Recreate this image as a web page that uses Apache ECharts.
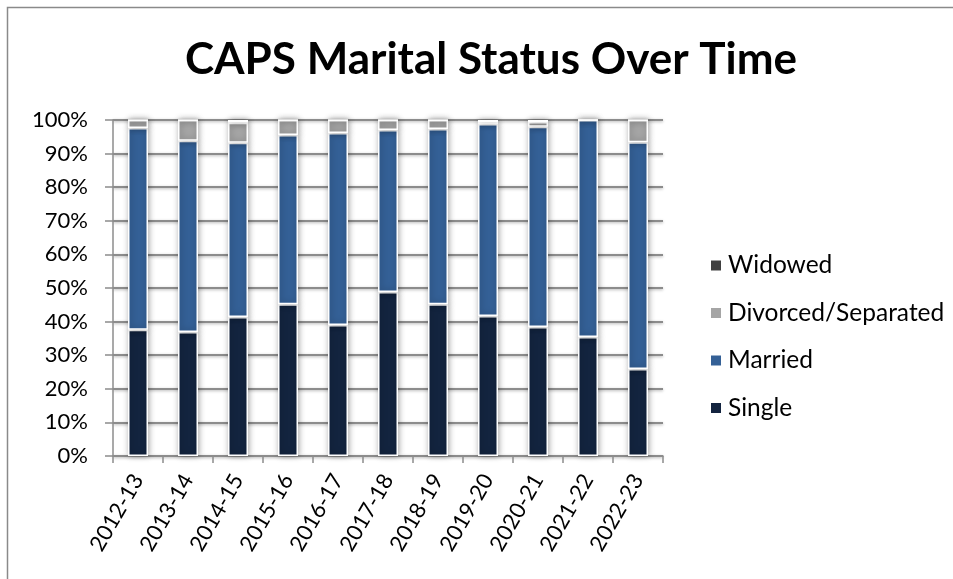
<!DOCTYPE html>
<html>
<head>
<meta charset="utf-8">
<script src="https://cdn.jsdelivr.net/npm/echarts@6/dist/echarts.min.js"></script>
<style>
html,body{margin:0;padding:0;background:#fff;}
#chart{width:953px;height:579px;}
</style>
</head>
<body>
<div id="chart"></div>
<script>
var years = ['2012-13','2013-14','2014-15','2015-16','2016-17','2017-18','2018-19','2019-20','2020-21','2021-22','2022-23'];
var single = [37.6, 36.9, 41.4, 45.2, 39.0, 48.8, 45.2, 41.7, 38.4, 35.4, 25.9];
var married = [60.0, 56.9, 51.8, 50.3, 57.1, 48.2, 52.1, 57.1, 59.6, 64.6, 67.5];
var divorced = [2.4, 6.2, 6.0, 4.5, 3.9, 3.0, 2.7, 0.6, 1.4, 0, 6.6];
var widowed = [0, 0, 0.8, 0, 0, 0, 0, 0.6, 0.6, 0, 0];

var fontName = 'Lato';

function barStyle(color){
	return {
		color: color,
		borderColor: '#fff',
		borderWidth: 1.5,
		shadowBlur: 6,
		shadowColor: 'rgba(0,0,0,0.35)',
		shadowOffsetX: 1
	};
}

var myChart = echarts.init(document.getElementById('chart'));
var option = {
	backgroundColor: '#fff',
	animation: false,
	textStyle: { fontFamily: fontName },
	title: {
		text: 'CAPS Marital Status Over Time',
		left: 486,
		top: 33,
		textAlign: 'center',
		textStyle: { fontFamily: fontName, fontSize: 44, fontWeight: 'bold', color: '#000' }
	},
	graphic: [{
		type: 'rect',
		shape: { x: 7.5, y: 7.5, width: 1000, height: 700 },
		style: { fill: 'none', stroke: '#8a8a8a', lineWidth: 1.5 },
		silent: true
	}],
	legend: {
		orient: 'vertical',
		left: 704,
		top: 248,
		itemWidth: 12,
		itemHeight: 12,
		itemGap: 22.5,
		icon: 'rect',
		data: ['Widowed', 'Divorced/Separated', 'Married', 'Single'],
		textStyle: { fontFamily: fontName, fontSize: 24.5, color: '#000', padding: [0, 0, 0, 1] }
	},
	grid: { left: 113, right: 290, top: 120, bottom: 123, containLabel: false },
	xAxis: [{
		type: 'category',
		data: years,
		axisLine: { lineStyle: { color: '#8c8c8c', width: 1.5 } },
		axisTick: { show: true, alignWithLabel: false, length: 7, lineStyle: { color: '#8c8c8c', width: 1.5 } },
		axisLabel: { rotate: 60, fontSize: 22, color: '#000', margin: 20, fontFamily: fontName }
	}],
	yAxis: [{
		type: 'value',
		min: 0,
		max: 100,
		interval: 10,
		axisLine: { show: true, lineStyle: { color: '#8c8c8c', width: 1.5 } },
		axisTick: { show: true, length: 8, lineStyle: { color: '#8c8c8c', width: 1.5 } },
		axisLabel: { formatter: '{value}%', fontSize: 22, color: '#000', margin: 25, fontFamily: fontName },
		splitLine: { lineStyle: { color: '#8c8c8c', width: 2, shadowBlur: 3, shadowColor: 'rgba(0,0,0,0.3)', shadowOffsetY: 1 } }
	}],
	series: [{
		name: 'Single',
		type: 'bar',
		stack: 'total',
		barWidth: '40%',
		data: single,
		itemStyle: barStyle('#13243f')
	}, {
		name: 'Married',
		type: 'bar',
		stack: 'total',
		data: married,
		itemStyle: barStyle('#346096')
	}, {
		name: 'Divorced/Separated',
		type: 'bar',
		stack: 'total',
		data: divorced,
		itemStyle: barStyle('#a5a5a5')
	}, {
		name: 'Widowed',
		type: 'bar',
		stack: 'total',
		data: widowed,
		itemStyle: barStyle('#404040')
	}]
};
myChart.setOption(option);
</script>
</body>
</html>
